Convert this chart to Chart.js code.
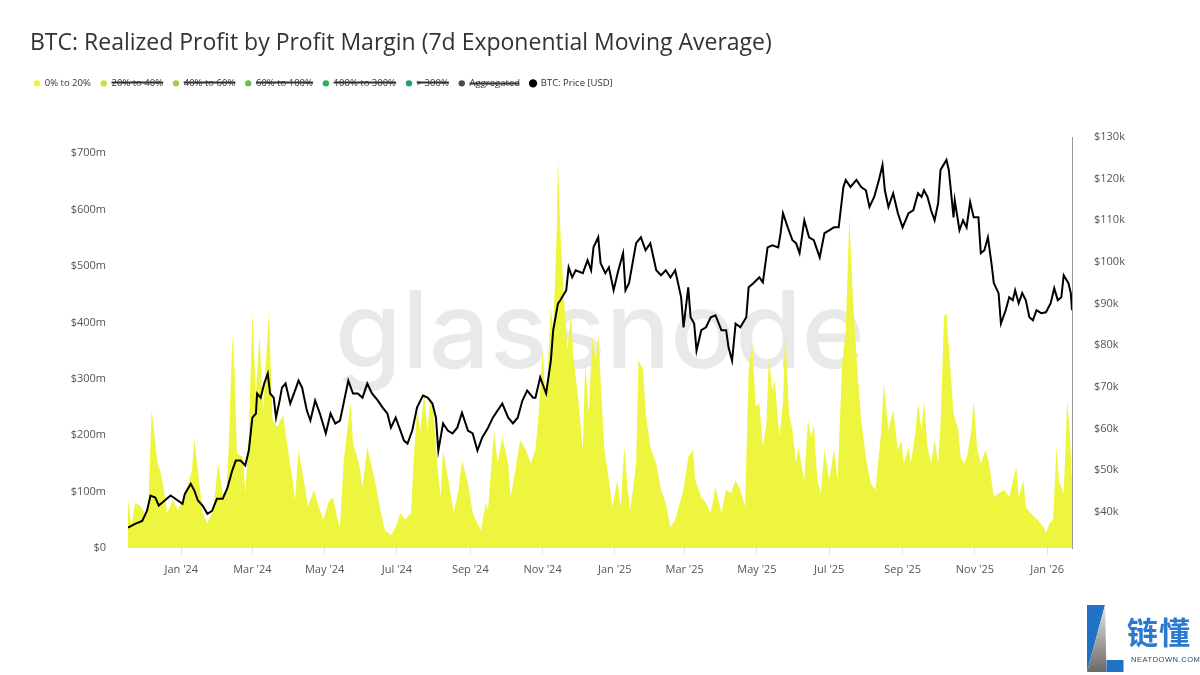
<!DOCTYPE html>
<html>
<head>
<meta charset="utf-8">
<title>BTC: Realized Profit by Profit Margin</title>
<script src="https://cdn.jsdelivr.net/npm/chart.js@4/dist/chart.umd.min.js"></script>
<style>
  body { margin: 0; background: #fff; }
  #wrap { position: relative; width: 1200px; height: 675px; }
  .logo-mark { position: absolute; left: 1080px; top: 600px; }
  .logo-cn { position: absolute; left: 1127px; top: 612px; font-family: "Noto Sans CJK SC"; font-weight: 700;
             font-size: 31px; line-height: 1.2; color: #2a7bd0; letter-spacing: 1px; }
  .logo-en { position: absolute; left: 1131px; top: 655px; font-family: "Liberation Sans"; font-size: 7.5px;
             letter-spacing: 0.55px; color: #27496e; }
</style>
</head>
<body>
<div id="wrap">
  <canvas id="chart" width="1200" height="675"></canvas>
  <svg class="logo-mark" width="50" height="75" viewBox="0 0 50 75">
    <defs>
      <linearGradient id="lg" x1="0" y1="0" x2="0" y2="1">
        <stop offset="0" stop-color="#e4e4e4"/>
        <stop offset="1" stop-color="#6a6a6a"/>
      </linearGradient>
    </defs>
    <polygon points="7,5 25,5 7,72" fill="#2272c3"/>
    <polygon points="25,5 26.5,72 7,72" fill="url(#lg)"/>
    <rect x="26.5" y="60" width="17" height="12" fill="#2272c3"/>
  </svg>
  <div class="logo-cn">链懂</div>
  <div class="logo-en">NEATDOWN.COM</div>
</div>
<script>
// x values are days counted from 1 Jan 2024

// realized profit, 0% to 20% band (USD millions, 7d EMA)
const profitDays = [-45, -42, -39, -35, -30, -28, -25, -20, -18, -15, -12, -7, -3, 2, 6, 9, 11, 14, 18, 22,
  27, 31, 35, 38, 40, 43, 45, 47, 52, 54, 57, 60, 63, 66, 69, 74, 77, 81, 86, 90,
  94, 96, 99, 103, 107, 112, 116, 120, 124, 128, 132, 134, 137, 140, 143, 145, 150, 153, 157, 160,
  164, 168, 172, 177, 181, 185, 189, 194, 196, 199, 202, 205, 208, 210, 213, 216, 219, 221, 226, 230,
  234, 237, 242, 246, 250, 253, 257, 259, 264, 267, 271, 276, 278, 282, 286, 291, 295, 299, 302, 305,
  308, 312, 314, 317, 318, 320, 323, 326, 329, 331, 335, 339, 341, 344, 347, 350, 352, 357, 361, 364,
  368, 371, 374, 377, 379, 384, 386, 390, 392, 396, 401, 405, 409, 413, 417, 420, 424, 428, 432, 434,
  439, 443, 447, 451, 456, 460, 464, 468, 472, 476, 479, 482, 485, 488, 491, 494, 496, 499, 501, 505,
  508, 510, 513, 516, 519, 521, 526, 529, 532, 534, 537, 540, 543, 547, 551, 554, 558, 561, 564, 567,
  570, 574, 578, 582, 586, 591, 593, 597, 601, 605, 608, 610, 614, 616, 620, 622, 625, 627, 630, 633,
  636, 639, 641, 644, 646, 649, 652, 656, 658, 661, 664, 667, 669, 672, 675, 679, 682, 686, 690, 695,
  699, 705, 707, 711, 713, 717, 723, 728, 730, 733, 736, 739, 741, 745, 748, 750, 752];
const profitValues = [85, 40, 80, 75, 60, 70, 245, 150, 138, 108, 62, 85, 67, 90, 115, 138, 195, 138, 62, 44,
  67, 150, 97, 97, 174, 374, 316, 168, 161, 97, 197, 417, 275, 378, 245, 419, 227, 215, 236, 174,
  120, 85, 174, 126, 73, 103, 73, 50, 80, 90, 50, 37, 150, 209, 257, 186, 150, 108, 179, 150,
  115, 67, 32, 23, 37, 62, 50, 62, 150, 245, 209, 275, 209, 262, 239, 150, 90, 174, 115, 62,
  103, 156, 115, 62, 44, 32, 80, 67, 209, 150, 197, 150, 90, 138, 191, 174, 150, 174, 245, 351,
  257, 427, 386, 564, 688, 564, 445, 351, 417, 339, 268, 174, 328, 239, 374, 328, 380, 179, 120, 73,
  120, 73, 179, 103, 67, 150, 333, 316, 239, 179, 150, 103, 80, 37, 50, 73, 103, 161, 174, 120,
  90, 80, 62, 108, 62, 103, 97, 120, 103, 73, 316, 363, 250, 257, 179, 221, 339, 280, 298, 197,
  257, 392, 239, 209, 150, 179, 120, 227, 197, 221, 120, 97, 174, 120, 174, 120, 328, 386, 587, 445,
  339, 227, 161, 115, 103, 209, 292, 209, 245, 174, 191, 150, 179, 150, 209, 257, 209, 262, 179, 150,
  191, 150, 221, 410, 417, 328, 239, 209, 161, 150, 168, 209, 262, 174, 150, 174, 150, 90, 97, 103,
  90, 144, 90, 120, 73, 62, 50, 37, 26, 44, 50, 179, 120, 97, 262, 209, 120];

// BTC price (USD thousands)
const priceDays = [-45, -39, -33, -29, -26, -22, -19, -14, -9, -3, 1, 3, 8, 11, 14, 18, 22, 26, 30, 35,
  39, 43, 46, 50, 54, 57, 60, 63, 64, 67, 70, 73, 75, 78, 80, 83, 85, 88, 92, 96,
  99, 102, 106, 109, 113, 117, 122, 126, 130, 134, 137, 141, 145, 149, 153, 157, 161, 166, 170, 174,
  177, 181, 185, 188, 191, 195, 199, 204, 208, 212, 215, 217, 221, 225, 229, 233, 237, 242, 246, 250,
  254, 259, 263, 267, 271, 276, 280, 284, 288, 292, 297, 299, 303, 308, 312, 314, 318, 320, 325, 327,
  330, 333, 339, 343, 346, 348, 352, 354, 358, 361, 365, 369, 373, 375, 378, 381, 384, 388, 392, 396,
  401, 405, 409, 413, 417, 422, 424, 428, 430, 433, 435, 439, 443, 447, 451, 456, 460, 462, 465, 468,
  472, 477, 479, 483, 488, 491, 495, 499, 504, 506, 508, 512, 516, 519, 522, 526, 530, 534, 539, 543,
  547, 551, 555, 559, 561, 565, 570, 574, 578, 581, 585, 589, 592, 594, 597, 601, 605, 609, 614, 618,
  622, 625, 627, 630, 633, 636, 639, 641, 646, 648, 652, 653, 657, 660, 663, 666, 669, 673, 675, 678,
  681, 684, 686, 690, 692, 696, 699, 702, 704, 707, 710, 713, 716, 719, 722, 726, 730, 734, 737, 740,
  743, 745, 749, 751, 752];
const priceValues = [36.2, 37.1, 37.8, 40.2, 43.9, 43.4, 41.5, 42.7, 43.9, 42.7, 41.9, 44.3, 46.7, 45.1, 42.7, 41.5, 39.5, 40.2, 43.1, 43.1,
  45.8, 49.9, 52.3, 52.3, 51.1, 54.7, 62.6, 63.6, 68.4, 67.4, 70.8, 73.2, 68.4, 67.4, 62.6, 66.7, 69.8, 70.8, 66.0, 69.1,
  71.5, 69.8, 64.3, 61.9, 66.7, 63.6, 58.8, 63.6, 61.2, 61.9, 66.0, 71.5, 68.4, 68.4, 67.4, 70.8, 68.4, 66.7, 65.0, 63.6,
  60.2, 62.6, 59.5, 57.1, 56.4, 59.5, 65.0, 67.9, 67.4, 66.0, 62.6, 54.7, 61.2, 59.5, 58.8, 60.2, 63.8, 59.5, 58.8, 54.7,
  57.8, 60.2, 62.6, 64.3, 66.0, 62.6, 61.2, 62.6, 66.7, 69.1, 67.4, 67.4, 72.3, 68.4, 76.3, 83.6, 90.0, 90.8, 93.2, 98.7,
  96.3, 98.0, 97.3, 100.4, 98.0, 103.5, 105.9, 99.7, 97.3, 98.7, 93.2, 98.0, 102.1, 93.2, 94.9, 99.7, 104.5, 105.9, 102.8, 104.5,
  98.0, 96.8, 98.0, 96.3, 98.0, 91.5, 84.3, 93.9, 86.7, 85.2, 78.7, 83.6, 84.3, 86.7, 87.2, 83.6, 83.6, 79.5, 76.3, 85.2,
  84.3, 86.7, 93.9, 94.9, 96.3, 95.1, 103.5, 104.0, 103.5, 106.9, 111.7, 108.3, 105.2, 104.5, 102.1, 110.0, 105.9, 105.2, 101.1, 106.9,
  107.6, 108.3, 108.3, 118.0, 119.7, 118.0, 119.7, 118.0, 117.2, 113.2, 115.6, 119.7, 123.3, 117.2, 113.2, 116.5, 111.7, 108.3, 111.7, 112.4,
  116.5, 115.6, 117.2, 115.6, 112.4, 110.0, 114.1, 122.1, 124.5, 122.1, 110.7, 114.8, 107.6, 110.0, 108.3, 114.4, 110.7, 110.7, 102.1, 102.8,
  105.9, 99.7, 94.9, 92.5, 85.2, 88.4, 91.5, 90.8, 93.2, 90.1, 92.5, 90.8, 86.7, 86.0, 88.4, 87.7, 87.9, 90.1, 93.7, 90.8,
  91.5, 96.8, 94.9, 92.5, 88.4];

// month ticks on the time axis
const tickDays = [0, 60, 121, 182, 244, 305, 366, 425, 486, 547, 609, 670, 731];
const tickLabels = ["Jan '24", "Mar '24", "May '24", "Jul '24", "Sep '24", "Nov '24", "Jan '25",
  "Mar '25", "May '25", "Jul '25", "Sep '25", "Nov '25", "Jan '26"];

// profit margin bands shown in the legend (only the first one is switched on)
const bandNames = ['0% to 20%', '20% to 40%', '40% to 60%', '60% to 100%', '100% to 300%', '> 300%', 'Aggregated'];
const bandColors = ['#e8f226', '#c6e52f', '#9dd13f', '#68c04f', '#30ae5a', '#1d9e7f', '#4a4a4a'];

const FONT = 'Open Sans';

let datasets = [{
  label: bandNames[0],
  data: profitDays.map((d, i) => ({ x: d, y: profitValues[i] })),
  yAxisID: 'y',
  backgroundColor: '#eef53f',
  borderColor: '#eef53f',
  borderWidth: 0,
  fill: 'origin',
  pointRadius: 0,
  order: 1
}];
for (let i = 1; i < bandNames.length; i++) {
  datasets.push({
    label: bandNames[i],
    data: [],
    hidden: true,
    yAxisID: 'y',
    backgroundColor: bandColors[i],
    borderColor: bandColors[i],
    borderWidth: 0,
    pointRadius: 0,
    order: 1
  });
}
datasets.push({
  label: 'BTC: Price [USD]',
  data: priceDays.map((d, i) => ({ x: d, y: priceValues[i] })),
  yAxisID: 'y1',
  borderColor: '#000',
  backgroundColor: '#000',
  borderWidth: 2,
  pointRadius: 0,
  fill: false,
  order: 0
});

// push the plot down below the legend, and nudge the legend a bit left
const legendGap = {
  id: 'legendGap',
  beforeInit(chart) {
    const fit = chart.legend.fit;
    chart.legend.fit = function () {
      fit.call(this);
      this.height = 68.4;
    };
    const draw = chart.legend.draw;
    chart.legend.draw = function () {
      this.ctx.save();
      this.ctx.translate(-6, 0);
      draw.call(this);
      this.ctx.restore();
    };
  }
};

// faint glassnode watermark behind the data
const watermark = {
  id: 'watermark',
  beforeDatasetsDraw(chart) {
    const ctx = chart.ctx;
    ctx.save();
    ctx.font = '500 100px Inter';
    let w = ctx.measureText('glassnode').width;
    let size = 100 * 530 / w;
    ctx.font = '500 ' + size + 'px Inter';
    ctx.fillStyle = 'rgba(0,0,0,0.085)';
    ctx.textAlign = 'center';
    ctx.textBaseline = 'alphabetic';
    ctx.fillText('glassnode', 600, 368);
    ctx.restore();
  }
};

new Chart(document.getElementById('chart'), {
  type: 'line',
  data: { datasets: datasets },
  plugins: [legendGap, watermark],
  options: {
    responsive: false,
    animation: false,
    devicePixelRatio: 1,
    layout: { padding: { left: 30, right: 0, top: 30, bottom: 87 } },
    plugins: {
      title: {
        display: true,
        text: 'BTC: Realized Profit by Profit Margin (7d Exponential Moving Average)',
        align: 'start',
        color: '#333',
        font: { family: FONT, size: 23, weight: 'normal' },
        padding: { top: 0, bottom: 11 }
      },
      legend: {
        align: 'start',
        labels: {
          usePointStyle: true,
          boxWidth: 6,
          boxHeight: 4.5,
          padding: 10,
          color: '#333',
          font: { family: FONT, size: 9.5 },
          sort: (a, b) => a.datasetIndex - b.datasetIndex
        }
      },
      tooltip: { enabled: false }
    },
    scales: {
      x: {
        type: 'linear',
        min: -45,
        max: 752,
        afterBuildTicks: (scale) => { scale.ticks = tickDays.map(v => ({ value: v })); },
        afterFit: (scale) => { scale.height = 40; },
        ticks: {
          autoSkip: false,
          maxRotation: 0,
          padding: 8,
          color: '#555',
          font: { family: FONT, size: 11 },
          callback: (v) => tickLabels[tickDays.indexOf(v)]
        },
        grid: { drawOnChartArea: false, tickLength: 7, color: '#e4e4e4' },
        border: { display: false }
      },
      y: {
        position: 'left',
        min: 0,
        max: 729,
        afterFit: (scale) => { scale.width = 98; },
        ticks: {
          stepSize: 100,
          includeBounds: false,
          padding: 14,
          color: '#555',
          font: { family: FONT, size: 11 },
          callback: (v) => v === 0 ? '$0' : '$' + v + 'm'
        },
        grid: { display: false },
        border: { display: false }
      },
      y1: {
        position: 'right',
        min: 31.3,
        max: 130,
        afterFit: (scale) => { scale.width = 128; },
        ticks: {
          stepSize: 10,
          includeBounds: false,
          padding: 14,
          color: '#555',
          font: { family: FONT, size: 11 },
          callback: (v) => '$' + v + 'k'
        },
        grid: { display: false },
        border: { display: true, color: '#9a9a9a', width: 1 }
      }
    }
  }
});
</script>
</body>
</html>
